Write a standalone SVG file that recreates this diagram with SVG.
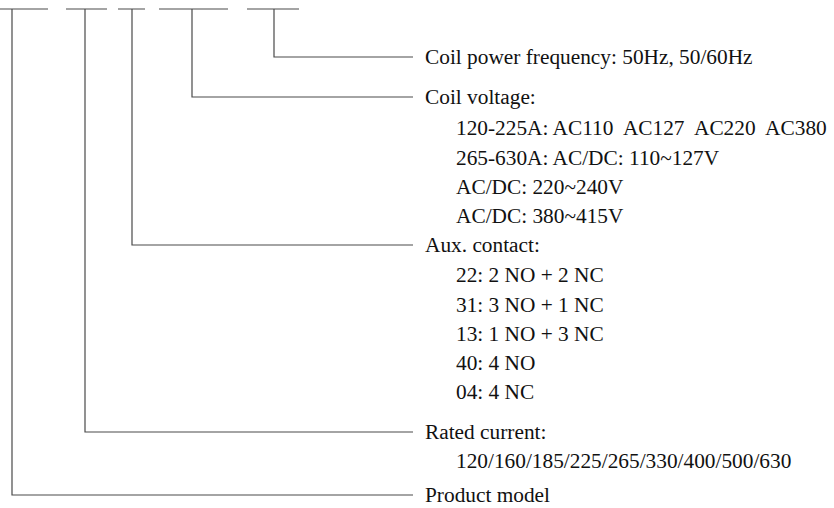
<svg xmlns="http://www.w3.org/2000/svg" width="834" height="508" viewBox="0 0 834 508">
<style>
.ln{stroke:#4a4a4a;stroke-width:1.2;fill:none}
.t{font-family:"Liberation Serif","Times New Roman",serif;font-size:21.33px;fill:#111}
</style>
<rect width="834" height="508" fill="#fff"/>
<g id="connectors">
<path class="ln" d="M0 9H48M12 9V495H413"/>
<path class="ln" d="M66 9H107M85 9V432H413"/>
<path class="ln" d="M118 9H145M132 9V245H413"/>
<path class="ln" d="M159 9H228M192 9V97H413"/>
<path class="ln" d="M247 9H299M274 9V57H413"/>
</g>
<g id="freq"><text class="t" x="425" y="64">Coil power frequency: 50Hz, 50/60Hz</text></g>
<g id="voltage">
<text class="t" x="425" y="104">Coil voltage:</text>
<text class="t" x="456" y="135" xml:space="preserve">120-225A: AC110  AC127  AC220  AC380</text>
<text class="t" x="456" y="165">265-630A: AC/DC: 110~127V</text>
<text class="t" x="456" y="194">AC/DC: 220~240V</text>
<text class="t" x="456" y="223">AC/DC: 380~415V</text>
</g>
<g id="aux">
<text class="t" x="425" y="252">Aux. contact:</text>
<text class="t" x="456" y="282">22: 2 NO + 2 NC</text>
<text class="t" x="456" y="312">31: 3 NO + 1 NC</text>
<text class="t" x="456" y="341">13: 1 NO + 3 NC</text>
<text class="t" x="456" y="370">40: 4 NO</text>
<text class="t" x="456" y="399">04: 4 NC</text>
</g>
<g id="current">
<text class="t" x="425" y="439">Rated current:</text>
<text class="t" x="456" y="468">120/160/185/225/265/330/400/500/630</text>
</g>
<g id="model"><text class="t" x="425" y="502">Product model</text></g>
</svg>
